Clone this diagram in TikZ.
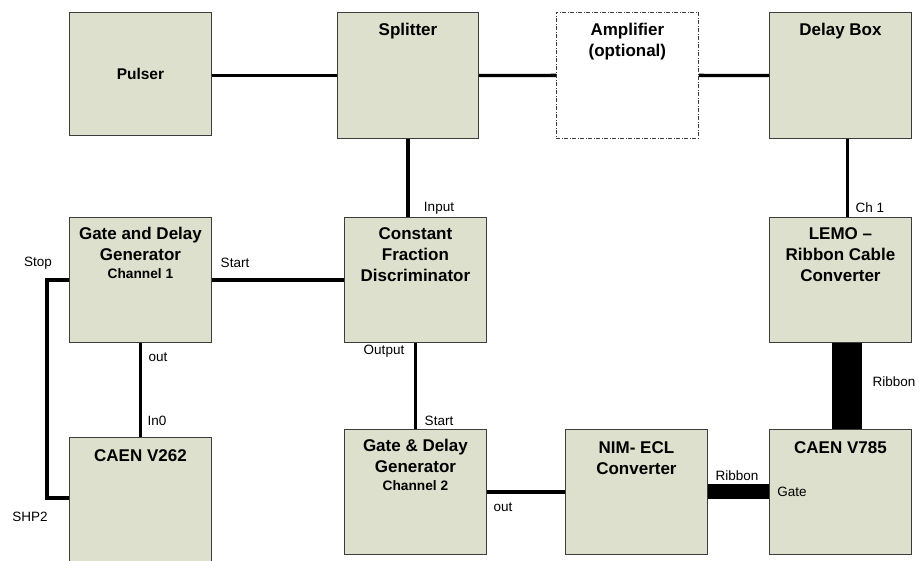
\documentclass[tikz,border=0pt]{standalone}
\usepackage{fontspec}
\setmainfont{Liberation Sans}
\usetikzlibrary{calc}
\definecolor{boxfill}{RGB}{221,224,204}
\definecolor{boxline}{RGB}{60,60,60}
\newcommand{\ttlfont}{\fontsize{17}{21}\selectfont\bfseries}
\newcommand{\chfont}{\fontsize{13.7}{17}\selectfont\bfseries}
\newcommand{\lblfont}{\fontsize{13.5}{16}\selectfont}
\tikzset{
  unitbox/.style={draw=boxline, line width=0.9pt, fill=boxfill, anchor=north west, inner sep=0pt, minimum width=142pt},
  optbox/.style={draw=boxline, line width=0.8pt, fill=white, anchor=north west, inner sep=0pt, minimum width=142pt,
     dash pattern=on 4pt off 1.5pt on 1pt off 1.5pt},
  ttl/.style={anchor=north, inner sep=0pt, align=center, font=\ttlfont},
  lbl/.style={inner sep=0pt, font=\lblfont},
  wire/.style={line width=3.3pt, line cap=butt},
  ribbonh/.style={line width=15pt, line cap=butt},
  ribbonv/.style={line width=30pt, line cap=butt}
}
\begin{document}
\begin{tikzpicture}[x=1pt,y=-1pt]
\useasboundingbox (0,0) rectangle (919,561);
% row 1
\node[unitbox, minimum height=123pt] (pulser) at (69,12) {};
\node[unitbox, minimum width=141pt, minimum height=126pt] (splitter) at (337,12) {};
\node[optbox, minimum height=126pt] (amp) at (556,12) {};
\node[unitbox, minimum height=126pt] (delay) at (769,12) {};
% row 2
\node[unitbox, minimum height=125pt] (g1) at (69,217) {};
\node[unitbox, minimum height=125pt] (cfd) at (344,217) {};
\node[unitbox, minimum height=125pt] (lemo) at (769,217) {};
% row 3
\node[unitbox, minimum height=130pt] (v262) at (69,437) {};
\node[unitbox, minimum height=125pt] (g2) at (344,429) {};
\node[unitbox, minimum height=125pt] (nim) at (565,429) {};
\node[unitbox, minimum height=125pt] (v785) at (769,429) {};
% titles
\node[inner sep=0pt, font=\fontsize{15.5}{19}\selectfont\bfseries] (pulsert) at (pulser.center) {Pulser};
\node[ttl] (splittert) at ($(splitter.north)+(0,11)$) {Splitter};
\node[ttl] (ampt) at ($(amp.north)+(0,11)$) {Amplifier\\(optional)};
\node[ttl] (delayt) at ($(delay.north)+(0,11)$) {Delay Box};
\node[ttl] (g1t) at ($(g1.north)+(0,10)$) {Gate and Delay\\Generator\\[-3pt]{\chfont Channel 1}};
\node[ttl] (cfdt) at ($(cfd.north)+(0,10)$) {Constant\\Fraction\\Discriminator};
\node[ttl] (lemot) at ($(lemo.north)+(0,10)$) {LEMO --\\Ribbon Cable\\Converter};
\node[ttl] (v262t) at ($(v262.north)+(0,12)$) {CAEN V262};
\node[ttl] (g2t) at ($(g2.north)+(0,10)$) {Gate \& Delay\\Generator\\[-3pt]{\chfont Channel 2}};
\node[ttl] (nimt) at ($(nim.north)+(0,12)$) {NIM- ECL\\Converter};
\node[ttl] (v785t) at ($(v785.north)+(0,12)$) {CAEN V785};
% connectors
\draw[wire] (splitter.west -| pulser.east) -- (splitter.west);
\draw[wire] (splitter.east) -- (amp.west);
\draw[wire] (amp.east) -- (delay.west);
\draw[wire] (splitter.south) -- (splitter.south |- cfd.north);
\path (delay.south) ++(7,0) coordinate (dlx);
\draw[wire] (dlx) -- (dlx |- lemo.north);
\draw[ribbonv] (dlx |- lemo.south) -- (dlx |- v785.north);
\draw[wire] (g1.east) -- (cfd.west);
\path (v262.north west) ++(0,61) coordinate (shp);
\draw[wire] (g1.west) -- ++(-22,0) |- (shp);
\draw[wire] (g1.south) -- (g1.south |- v262.north);
\draw[wire] (cfd.south) -- (g2.north);
\draw[wire] (g2.east) -- (nim.west);
\draw[ribbonh] (nim.east) -- (v785.west);
% labels
\node[lbl] (lstop) at (38,263) {Stop};
\node[lbl] (lstart1) at (235,263) {Start};
\node[lbl] (linput) at (439,208) {Input};
\node[lbl] (lout1) at (158,357) {out};
\node[lbl] (loutput) at (384,351) {Output};
\node[lbl] (lin0) at (157,421) {In0};
\node[lbl] (lstart2) at (439,421) {Start};
\node[lbl] (lshp) at (30,517) {SHP2};
\node[lbl] (lch1) at (870,208) {Ch 1};
\node[lbl] (lrib1) at (894,382) {Ribbon};
\node[lbl] (lrib2) at (737,476) {Ribbon};
\node[lbl] (lgate) at (792,492) {Gate};
\node[lbl] (lout2) at (503,507) {out};
\end{tikzpicture}
\end{document}
